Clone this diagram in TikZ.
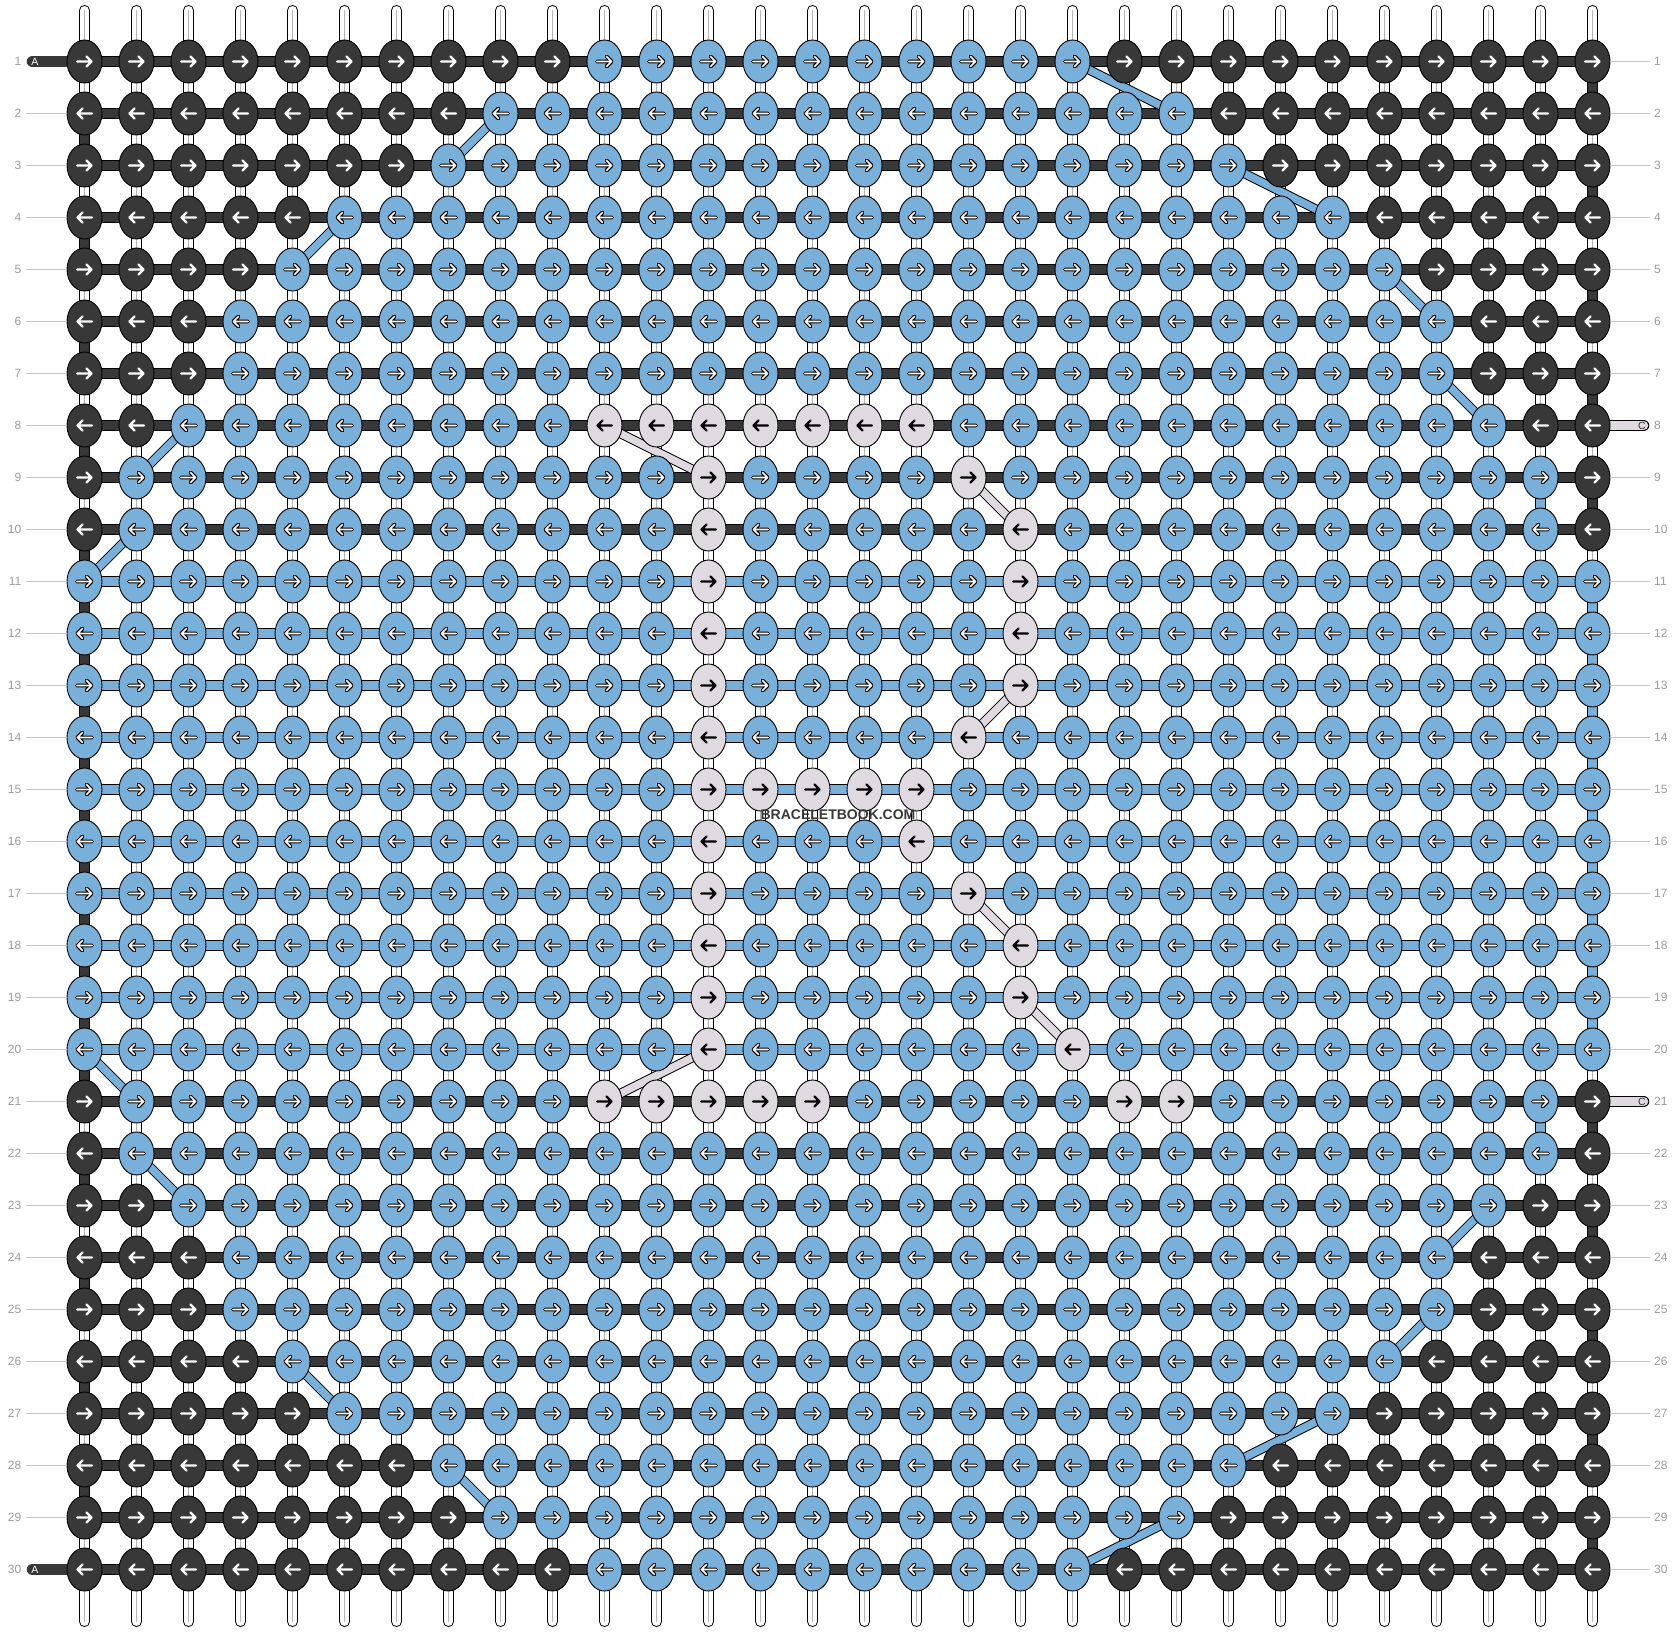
\documentclass[tikz,border=0pt]{standalone}
\usepackage{fontspec}
\setmainfont{Liberation Sans}
\usetikzlibrary{shapes.geometric}
\definecolor{kdark}{HTML}{383838}
\definecolor{kblue}{HTML}{79B0DA}
\definecolor{klight}{HTML}{DFDADF}
\definecolor{numgrey}{HTML}{9A9A9A}
\definecolor{linegrey}{HTML}{C8C8C8}
\definecolor{midgrey}{HTML}{B4B4B4}
\pgfdeclarelayer{threads}
\pgfdeclarelayer{bars}
\pgfdeclarelayer{bands}
\pgfsetlayers{threads,bars,bands,main}
\makeatletter
\newcommand\setkc[4]{%
  \def\kc{kblue}\def\kind{2}%
  \ifnum#1>#2\relax\else\def\kc{kdark}\def\kind{0}\fi
  \ifnum#1<#3\relax\else\def\kc{kdark}\def\kind{0}\fi
  \edef\kn@tmp{\noexpand\in@{-#1-}{#4}}\kn@tmp
  \ifin@\def\kc{klight}\def\kind{1}\fi}
\makeatother
\newcommand\karrow[4]{\draw[#4] ({#1-7.5*(#3)},#2) -- ({#1+7*(#3)},#2) ({#1+2*(#3)},{#2-5}) -- ({#1+7*(#3)},#2) -- ({#1+2*(#3)},{#2+5});}
\begin{document}
\begin{tikzpicture}[x=1pt,y=-1pt,
  knot/.style={ellipse, minimum width=35pt, minimum height=43pt, inner sep=0pt, draw=black, line width=0.9pt},
  awhite/.style={draw=white, line width=2.2pt, line cap=round, line join=round},
  ablack/.style={draw=black, line width=2.2pt, line cap=round, line join=round},
  aout/.style={draw=black, line width=3.9pt, line cap=round, line join=round},
  ain/.style={draw=white, line width=1.7pt, line cap=round, line join=round},
  numl/.style={text=numgrey, font=\fontsize{12}{12}\selectfont, inner sep=0pt},
  guide/.style={draw=linegrey, line width=1pt},
  tag/.style={font=\fontsize{10.5}{10.5}\selectfont, inner sep=0pt}]
\useasboundingbox (0,0) rectangle (1676,1632);
% knots
\foreach \rr/\dl/\dr/\lt in {
 1/10/21/-, 2/8/23/-, 3/7/24/-, 4/5/26/-, 5/4/27/-, 6/3/28/-, 7/3/28/-,
 8/2/29/-11-12-13-14-15-16-17-, 9/1/30/-13-18-, 10/1/30/-13-19-,
 11/0/31/-13-19-, 12/0/31/-13-19-, 13/0/31/-13-19-, 14/0/31/-13-18-,
 15/0/31/-13-14-15-16-17-, 16/0/31/-13-17-, 17/0/31/-13-18-, 18/0/31/-13-19-,
 19/0/31/-13-19-, 20/0/31/-13-20-, 21/1/30/-11-12-13-14-15-21-22-,
 22/1/30/-, 23/2/29/-, 24/3/28/-, 25/3/28/-, 26/4/27/-, 27/5/26/-,
 28/7/24/-, 29/8/23/-, 30/10/21/-}{
  \pgfmathsetmacro\yy{61.5+52*(\rr-1)}
  \pgfmathsetmacro\dd{2*mod(\rr,2)-1}
  \foreach \cc in {1,...,30}{
    \pgfmathsetmacro\xx{84.5+52*(\cc-1)}
    \setkc{\cc}{\dl}{\dr}{\lt}
    \node[knot,fill=\kc] (k-\rr-\cc) at (\xx,\yy) {};
    \ifcase\kind
      \karrow{\xx}{\yy}{\dd}{awhite}
    \or
      \karrow{\xx}{\yy}{\dd}{ablack}
    \or
      \karrow{\xx}{\yy}{\dd}{aout}\karrow{\xx}{\yy}{\dd}{ain}
    \fi
  }
}
% vertical threads
\foreach \cc in {1,...,30}{
  \pgfmathsetmacro\xx{84.5+52*(\cc-1)}
  \coordinate (t-\cc) at (\xx,10.5);
  \coordinate (b-\cc) at (\xx,1621.5);
  \begin{pgfonlayer}{threads}
    \draw[black, line width=11pt, line cap=round] (t-\cc) -- (b-\cc);
    \draw[white, line width=9pt, line cap=round] (t-\cc) -- (b-\cc);
    \draw[midgrey, line width=0.8pt] (t-\cc) -- (b-\cc);
  \end{pgfonlayer}
}
% horizontal bars
\begin{pgfonlayer}{bars}
\foreach \rr in {1,...,30}{
  \def\bc{kdark}\ifnum\rr>10 \ifnum\rr<21 \def\bc{kblue}\fi\fi
  \draw[line width=11.5pt, black] (k-\rr-1.center) -- (k-\rr-30.center);
  \draw[line width=9.5pt, \bc] (k-\rr-1.center) -- (k-\rr-30.center);
}
% coloured vertical segments
\foreach \cc/\ra/\sc in {
 1/2/kdark, 1/4/kdark, 1/6/kdark, 1/8/kdark, 1/10/kdark, 1/11/kdark, 1/12/kdark,
 1/13/kdark, 1/14/kdark, 1/15/kdark, 1/16/kdark, 1/17/kdark, 1/18/kdark, 1/19/kdark,
 1/20/kdark, 1/22/kdark, 1/24/kdark, 1/26/kdark, 1/28/kdark,
 30/1/kdark, 30/3/kdark, 30/5/kdark, 30/7/kdark, 30/9/kdark,
 30/11/kblue, 30/12/kblue, 30/13/kblue, 30/14/kblue, 30/15/kblue, 30/16/kblue,
 30/17/kblue, 30/18/kblue, 30/19/kblue,
 30/21/kdark, 30/23/kdark, 30/25/kdark, 30/27/kdark, 30/29/kdark,
 29/9/kblue, 29/21/kblue}{
  \pgfmathtruncatemacro\rb{\ra+1}
  \draw[line width=11pt, black] (k-\ra-\cc.center) -- (k-\rb-\cc.center);
  \draw[line width=9pt, \sc] (k-\ra-\cc.center) -- (k-\rb-\cc.center);
}
% A and C tails
\coordinate (aL-1) at (32.5,61.5);
\coordinate (aL-30) at (32.5,1569.5);
\coordinate (cR-8) at (1643.5,425.5);
\coordinate (cR-21) at (1643.5,1101.5);
\foreach \rr in {1,30}{
  \draw[line width=11.5pt, kdark, line cap=round] (aL-\rr) -- (k-\rr-1.center);
}
\foreach \rr in {8,21}{
  \draw[line width=11.5pt, black, line cap=round] (cR-\rr) -- (k-\rr-30.center);
  \draw[line width=9.5pt, klight, line cap=round] (cR-\rr) -- (k-\rr-30.center);
}
\end{pgfonlayer}
% diagonal passes
\begin{pgfonlayer}{bands}
\foreach \ra/\ca/\rb/\cb/\sc in {
 1/20/2/22/kblue, 2/9/3/8/kblue, 3/23/4/25/kblue, 4/6/5/5/kblue, 5/26/6/27/kblue,
 7/27/8/28/kblue, 8/3/9/2/kblue, 8/11/9/13/klight, 9/18/10/19/klight,
 10/2/11/1/kblue, 13/19/14/18/klight, 17/18/18/19/klight, 19/19/20/20/klight,
 20/1/21/2/kblue, 20/13/21/11/klight, 22/2/23/3/kblue, 23/28/24/27/kblue,
 25/27/26/26/kblue, 26/5/27/6/kblue, 27/25/28/23/kblue, 28/8/29/9/kblue,
 29/22/30/20/kblue}{
  \draw[line width=9.5pt, black] (k-\ra-\ca.center) -- (k-\rb-\cb.center);
  \draw[line width=7.5pt, \sc] (k-\ra-\ca.center) -- (k-\rb-\cb.center);
}
\end{pgfonlayer}
\node[tag, text=white] (tA1) at (35,62) {A};
\node[tag, text=white] (tA30) at (35,1570) {A};
\node[tag, text=black!80] (tC8) at (1642,426) {C};
\node[tag, text=black!80] (tC21) at (1642,1102) {C};
% row numbers
\foreach \rr in {1,...,30}{
  \pgfmathsetmacro\yy{61.5+52*(\rr-1)}
  \node[numl, anchor=east] (nl-\rr) at (21.5,\yy) {\rr};
  \node[numl, anchor=west] (nr-\rr) at (1654,\yy) {\rr};
}
\foreach \rr in {2,...,29}{
  \pgfmathsetmacro\yy{61.5+52*(\rr-1)}
  \coordinate (ll-\rr) at (26,\yy);
  \draw[guide] (ll-\rr) -- (k-\rr-1.west);
}
\foreach \rr in {1,...,7,9,10,...,20,22,23,...,30}{
  \pgfmathsetmacro\yy{61.5+52*(\rr-1)}
  \coordinate (lr-\rr) at (1650,\yy);
  \draw[guide] (k-\rr-30.east) -- (lr-\rr);
}
\node[font=\bfseries\fontsize{14}{14}\selectfont, text=kdark, inner sep=0pt] (wm) at (838,815) {BRACELETBOOK.COM};
\end{tikzpicture}
\end{document}
